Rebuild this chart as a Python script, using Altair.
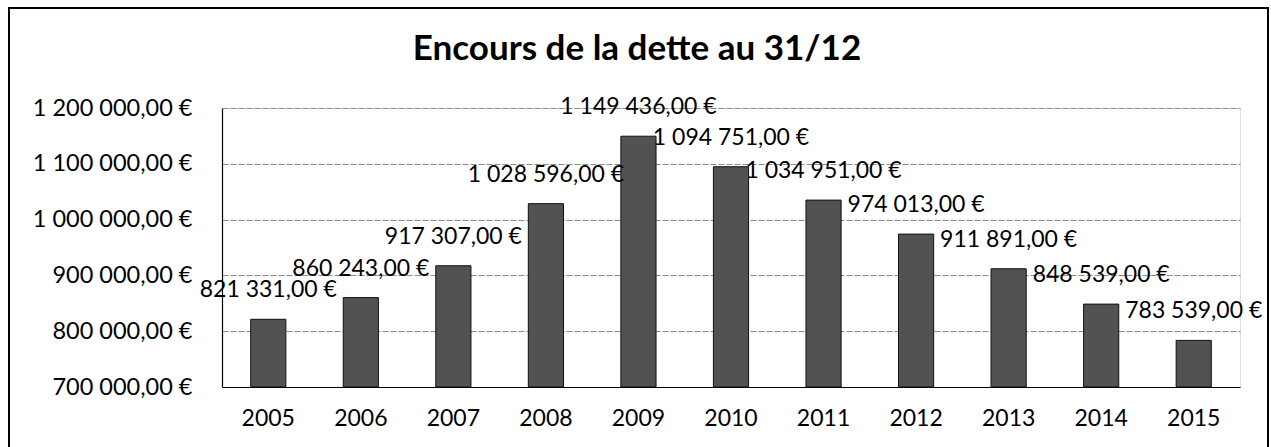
import altair as alt
import pandas as pd

years = ["2005", "2006", "2007", "2008", "2009", "2010", "2011", "2012", "2013", "2014", "2015"]
values = [821331, 860243, 917307, 1028596, 1149436, 1094751, 1034951, 974013, 911891, 848539, 783539]
y_ticks = [700000, 800000, 900000, 1000000, 1100000, 1200000]
y_min = 700000
y_max = 1200000


def fr(v):
    s = f"{v:,.2f}".replace(",", " ").replace(".", ",")
    return s + " €"


df = pd.DataFrame({"year": years, "value": values, "label": [fr(v) for v in values]})

FONT = "Lato"

base = alt.Chart(df)

x = alt.X("year:N", sort=years, title=None,
          scale=alt.Scale(paddingInner=0.62, paddingOuter=0.31),
          axis=alt.Axis(labelAngle=0, labelFontSize=23, labelFont=FONT, labelColor="black",
                        labelPadding=20, ticks=False, domainColor="black", domainWidth=1.2))
y = alt.Y("value:Q", title=None,
          scale=alt.Scale(domain=[y_min, y_max], zero=False, nice=False),
          axis=alt.Axis(values=y_ticks, labelFontSize=23.5, labelFont=FONT, labelColor="black",
                        labelPadding=30, ticks=False, domainColor="black", domainWidth=1.2,
                        gridColor="#8a8a8a", gridDash=[6, 2], gridWidth=1,
                        labelExpr="replace(replace(format(datum.value, ',.2f'), /,/g, ' '), '.', ',') + ' €'"))

bars = base.mark_bar(color="#525252", stroke="#111111", strokeWidth=1).encode(
    x=x, y=y, y2=alt.datum(y_min))

labels = base.mark_text(baseline="bottom", dy=-17, fontSize=23, font=FONT, color="black").encode(
    x=alt.X("year:N", sort=years), y="value:Q", text="label:N")

frame = alt.Chart(pd.DataFrame({"a": [0]})).mark_rect(fill=None, stroke="black", strokeWidth=2).encode(
    x=alt.value(-213), x2=alt.value(1046), y=alt.value(-100), y2=alt.value(360))

chart = alt.layer(bars, labels, frame).properties(
    width=1018, height=279,
    padding={"left": 222, "top": 108, "right": 31, "bottom": 60},
    autosize=alt.AutoSizeParams(type="none"),
    title=alt.TitleParams("Encours de la dette au 31/12", font=FONT, fontSize=35, fontWeight="bold",
                          color="black", anchor="middle", frame="group", dx=-94, offset=-60),
).configure_view(stroke=None).configure(background="white")

chart.save("out.html", embed_options={"renderer": "svg", "actions": False})
